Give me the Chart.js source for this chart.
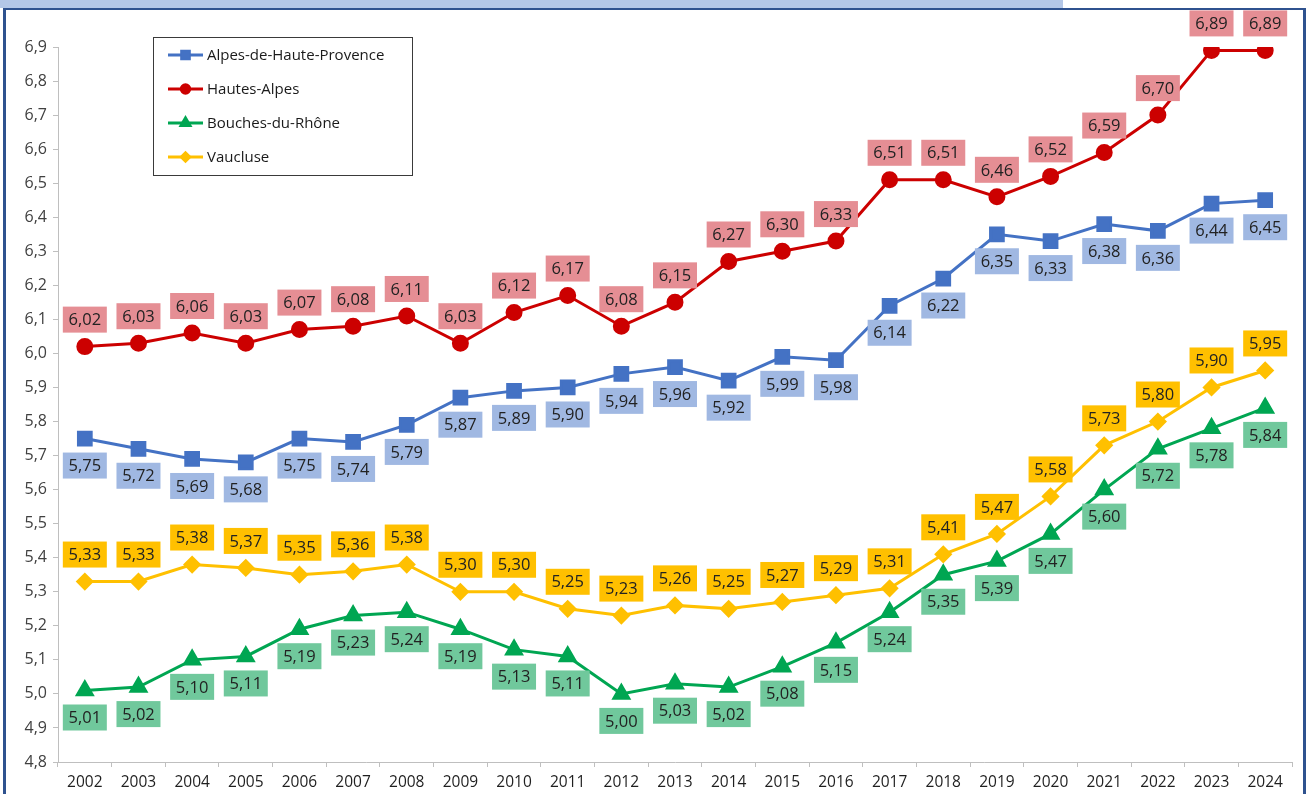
<!DOCTYPE html>
<html>
<head>
<meta charset="utf-8">
<script src="https://cdn.jsdelivr.net/npm/chart.js@4.4.1/dist/chart.umd.min.js"></script>
<style>
  body { margin: 0; background: #fff; }
  #wrap { position: relative; width: 1311px; height: 794px; overflow: hidden; }
  #topbar { position: absolute; left: 0; top: 0; width: 1063px; height: 8px; background: rgb(180, 199, 231); }
  #frame { position: absolute; left: 3px; top: 8px; width: 1297px; height: 800px;
           border-left: 3px solid rgb(47, 82, 143); border-top: 2px solid rgb(47, 82, 143);
           border-right: 3px solid rgb(47, 82, 143); }
  canvas { position: absolute; left: 0; top: 0; }
</style>
</head>
<body>
<div id="wrap">
  <div id="topbar"></div>
  <div id="frame"></div>
  <canvas id="chart" width="1311" height="794"></canvas>
</div>
<script>
const years = ["2002", "2003", "2004", "2005", "2006", "2007", "2008", "2009", "2010", "2011", "2012",
  "2013", "2014", "2015", "2016", "2017", "2018", "2019", "2020", "2021", "2022", "2023", "2024"];

const alpesHauteProvence = [5.75, 5.72, 5.69, 5.68, 5.75, 5.74, 5.79, 5.87, 5.89, 5.90, 5.94,
  5.96, 5.92, 5.99, 5.98, 6.14, 6.22, 6.35, 6.33, 6.38, 6.36, 6.44, 6.45];
const hautesAlpes = [6.02, 6.03, 6.06, 6.03, 6.07, 6.08, 6.11, 6.03, 6.12, 6.17, 6.08,
  6.15, 6.27, 6.30, 6.33, 6.51, 6.51, 6.46, 6.52, 6.59, 6.70, 6.89, 6.89];
const bouchesDuRhone = [5.01, 5.02, 5.10, 5.11, 5.19, 5.23, 5.24, 5.19, 5.13, 5.11, 5.00,
  5.03, 5.02, 5.08, 5.15, 5.24, 5.35, 5.39, 5.47, 5.60, 5.72, 5.78, 5.84];
const vaucluse = [5.33, 5.33, 5.38, 5.37, 5.35, 5.36, 5.38, 5.30, 5.30, 5.25, 5.23,
  5.26, 5.25, 5.27, 5.29, 5.31, 5.41, 5.47, 5.58, 5.73, 5.80, 5.90, 5.95];

const yMin = 4.8;
const yMax = 6.9;

const fmt = (v, d) => v.toFixed(d).replace(".", ",");
const FONT = "'Open Sans', 'Noto Sans', sans-serif";

function series(label, data, color, style, radius, labelPos, labelBg) {
  return {
    label: label,
    data: data,
    borderColor: color,
    backgroundColor: color,
    pointBackgroundColor: color,
    pointBorderColor: color,
    pointStyle: style,
    pointRadius: radius,
    pointHoverRadius: radius,
    borderWidth: 3,
    tension: 0,
    labelPos: labelPos,
    labelBg: labelBg,
  };
}

// value boxes drawn above / below each point
const valueLabels = {
  id: "valueLabels",
  afterDatasetsDraw(chart) {
    const ctx = chart.ctx;
    ctx.save();
    ctx.font = "16.5px " + FONT;
    ctx.textAlign = "center";
    ctx.textBaseline = "middle";
    chart.data.datasets.forEach((ds, i) => {
      const meta = chart.getDatasetMeta(i);
      meta.data.forEach((pt, j) => {
        const txt = fmt(ds.data[j], 2);
        const cy = pt.y + (ds.labelPos === "above" ? -27 : 27);
        const w = 44, h = 26;
        ctx.fillStyle = ds.labelBg;
        ctx.fillRect(pt.x - w / 2, cy - h / 2, w, h);
        ctx.fillStyle = "#222";
        ctx.fillText(txt, pt.x, cy + 1);
      });
    });
    ctx.restore();
  },
};

// legend box in the upper left of the plot
const boxLegend = {
  id: "boxLegend",
  afterDraw(chart) {
    const ctx = chart.ctx;
    ctx.save();
    ctx.fillStyle = "#fff";
    ctx.fillRect(153.5, 37.5, 259, 138);
    ctx.strokeStyle = "#3a3a3a";
    ctx.lineWidth = 1;
    ctx.strokeRect(153.5, 37.5, 259, 138);
    ctx.font = "15px " + FONT;
    ctx.textBaseline = "middle";
    chart.data.datasets.forEach((ds, i) => {
      const y = 55 + i * 34;
      ctx.strokeStyle = ds.borderColor;
      ctx.lineWidth = 3;
      ctx.beginPath();
      ctx.moveTo(168, y);
      ctx.lineTo(203, y);
      ctx.stroke();
      Chart.helpers.drawPoint(ctx, {
        pointStyle: ds.pointStyle,
        radius: ds.pointRadius * 0.6,
        borderWidth: 1,
        rotation: 0,
      }, 185.5, y);
      ctx.fillStyle = ds.borderColor;
      ctx.fill();
      ctx.fillStyle = "#1a1a1a";
      ctx.fillText(ds.label, 207, y + 1);
    });
    ctx.restore();
  },
};

new Chart(document.getElementById("chart"), {
  type: "line",
  data: {
    labels: years,
    datasets: [
      series("Alpes-de-Haute-Provence", alpesHauteProvence, "rgb(68, 114, 196)", "rect", 9, "below", "rgb(160, 184, 226)"),
      series("Hautes-Alpes", hautesAlpes, "rgb(204, 0, 0)", "circle", 7, "above", "rgb(229, 142, 148)"),
      series("Bouches-du-Rhône", bouchesDuRhone, "rgb(0, 166, 82)", "triangle", 8.5, "below", "rgb(112, 200, 156)"),
      series("Vaucluse", vaucluse, "rgb(255, 192, 0)", "rectRot", 7, "above", "rgb(255, 192, 0)"),
    ],
  },
  options: {
    responsive: false,
    animation: false,
    devicePixelRatio: 1,
    layout: { padding: { top: 47, right: 19, left: 0, bottom: 0 } },
    plugins: { legend: { display: false }, tooltip: { enabled: false } },
    scales: {
      x: {
        offset: true,
        afterFit(scale) { scale.height = 32; },
        grid: { offset: true, drawOnChartArea: false, tickLength: 5, color: "rgb(191, 191, 191)" },
        border: { color: "rgb(191, 191, 191)", width: 1 },
        ticks: { color: "#1f1f1f", font: { family: FONT, size: 15.5 }, padding: 6, maxRotation: 0, autoSkip: false },
      },
      y: {
        min: yMin,
        max: yMax,
        afterFit(scale) { scale.width = 58; },
        grid: { drawOnChartArea: false, tickLength: 5, color: "rgb(191, 191, 191)" },
        border: { color: "rgb(191, 191, 191)", width: 1 },
        ticks: {
          stepSize: 0.1,
          color: "#404040",
          font: { family: FONT, size: 16 },
          padding: 6,
          callback: (v) => fmt(v, 1),
        },
      },
    },
  },
  plugins: [valueLabels, boxLegend],
});
</script>
</body>
</html>
